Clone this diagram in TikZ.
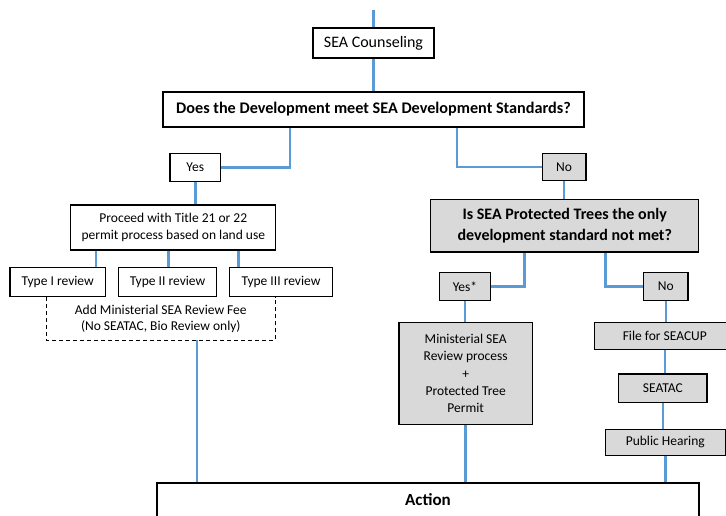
\documentclass[tikz,border=0pt]{standalone}
\usepackage{fontspec}
\setmainfont{Carlito}
\usetikzlibrary{positioning}
\definecolor{linkblue}{RGB}{91,155,213}
\definecolor{boxgrey}{RGB}{217,217,217}

\begin{document}
\begin{tikzpicture}
	[x=1pt, y=1pt,
	 every node/.style={font=\fontsize{13.5}{17.3}\selectfont, align=center, inner sep=0pt},
	 box/.style={draw, line width=1.3pt, fill=white},
	 greybox/.style={box, fill=boxgrey},
	 link/.style={draw=linkblue, line width=2.5pt}]
	\useasboundingbox (0,0) rectangle (726,515);
	\clip (0,0) rectangle (726,515);
	\coordinate (top) at (373.5,505);
	\node[box, minimum width=121pt, minimum height=30pt, font=\fontsize{16}{19}\selectfont] (counsel) at (373.5,472) {SEA Counseling};
	\node[box, minimum width=421pt, minimum height=35pt, font=\bfseries\fontsize{16.2}{19}\selectfont] (q1) at (373.5,405.5) {Does the Development meet SEA Development Standards?};
	% left branch
	\node[box, minimum width=50.7pt, minimum height=28.4pt] (yes1) at (195.3,347.5) {Yes};
	\node[box, minimum width=205pt, minimum height=45pt] (proc) at (173.3,287.5) {Proceed with Title 21 or 22\\permit process based on land use};
	\node[minimum width=228.3pt, minimum height=43pt, font=\fontsize{13.5}{16}\selectfont] (fee) at (160.8,196.5) {Add Ministerial SEA Review Fee\\(No SEATAC, Bio Review only)};
	\draw[line width=1.3pt, dash pattern=on 4pt off 3pt] (fee.north west) |- (fee.south east) -- (fee.north east);
	\node[box, minimum width=95.3pt, minimum height=29pt] (t1) at (57.7,233) {Type I review};
	\node[box, minimum width=98.4pt, minimum height=29pt] (t2) at (167.5,233) {Type II review};
	\node[box, minimum width=103.4pt, minimum height=29pt] (t3) at (281,233) {Type III review};
	% right branch
	\node[greybox, minimum width=43.7pt, minimum height=27.4pt] (no1) at (564,348) {No};
	\node[greybox, minimum width=268pt, minimum height=52.7pt, font=\bfseries\fontsize{16}{21}\selectfont] (q2) at (564.7,289.3) {Is SEA Protected Trees the only\\development standard not met?};
	\node[greybox, minimum width=50.6pt, minimum height=28pt] (yes2) at (465,228.3) {Yes*};
	\node[greybox, minimum width=44.3pt, minimum height=28pt] (no2) at (665.8,228.3) {No};
	\node[greybox, minimum width=133.3pt, minimum height=101.6pt] (min) at (465.7,141.5) {Ministerial SEA\\Review process\\+\\Protected Tree\\Permit};
	\node[greybox, minimum width=140pt, minimum height=26.6pt] (file) at (664.8,179) {File for SEACUP};
	\node[greybox, minimum width=88.3pt, minimum height=28.3pt] (seatac) at (662.8,126.8) {SEATAC};
	\node[greybox, minimum width=120pt, minimum height=26pt] (ph) at (665.3,72.7) {Public Hearing};
	\node[box, line width=1.6pt, anchor=north, minimum width=542pt, minimum height=70pt,
		label={[font=\bfseries\fontsize{17}{20}\selectfont, anchor=north, yshift=-11pt]north:Action}] (act) at (428,32.7) {};
	% connectors
	\draw[link] (top) -- (counsel);
	\draw[link] (counsel) -- (q1);
	\draw[link] ([xshift=-83.5pt]q1.south) |- (yes1);
	\draw[link] ([xshift=83.5pt]q1.south) |- (no1);
	\draw[link] (yes1) -- (yes1 |- proc.north);
	\foreach \t/\dx in {t1/-77.3, t2/-5, t3/65.4}
		\draw[link] ([xshift=\dx pt]proc.south) coordinate (p) -- (p |- \t.north);
	\draw[link] ([xshift=36pt]fee.south) coordinate (f) -- (f |- act.north);
	\draw[link] (no1) -- (no1 |- q2.north);
	\draw[link] ([xshift=-40pt]q2.south) |- (yes2);
	\draw[link] ([xshift=40.6pt]q2.south) |- (no2);
	\draw[link] (yes2) -- (yes2 |- min.north);
	\draw[link] (min) -- (min |- act.north);
	\draw[link] (no2) -- (no2 |- file.north);
	\draw[link] (file) -- (file |- seatac.north);
	\draw[link] (seatac) -- (seatac |- ph.north);
	\draw[link] (ph) -- (ph |- act.north);
\end{tikzpicture}
\end{document}
